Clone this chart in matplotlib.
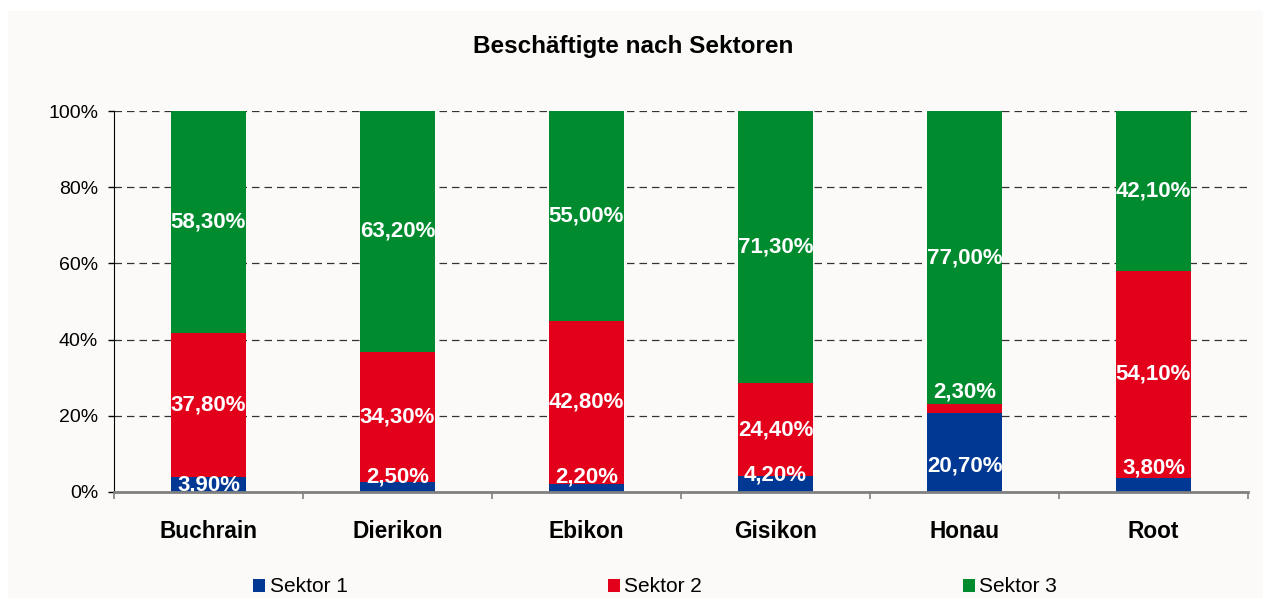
import numpy as np
import matplotlib.pyplot as plt
from matplotlib.patches import Rectangle

plt.rcParams['font.family'] = ['Liberation Sans', 'DejaVu Sans']

gemeinden = ['Buchrain', 'Dierikon', 'Ebikon', 'Gisikon', 'Honau', 'Root']
sektor1 = [3.9, 2.5, 2.2, 4.2, 20.7, 3.8]
sektor2 = [37.8, 34.3, 42.8, 24.4, 2.3, 54.1]
sektor3 = [58.3, 63.2, 55.0, 71.3, 77.0, 42.1]
serien = ['Sektor 1', 'Sektor 2', 'Sektor 3']
farben = ['#003893', '#E2001A', '#008C2E']

# label nudges in pixels (series index, bar index) -> dy
nudge = {(0, 1): 10, (0, 2): 11, (0, 3): 9, (0, 4): -13, (0, 5): 17, (1, 4): 17}

W, H = 1263, 598
fig = plt.figure(figsize=(W / 100, H / 100), dpi=100, facecolor='white')
fig.patches.append(Rectangle((8 / W, 0), 1, 1 - 11 / H, transform=fig.transFigure,
                             facecolor='#FBFAF8', edgecolor='none', zorder=-10))

ax = fig.add_axes([114 / W, 1 - 492 / H, 1134 / W, 381 / H])
ax.set_facecolor('none')

x = np.arange(len(gemeinden))
data = [sektor1, sektor2, sektor3]
bottom = np.zeros(len(gemeinden))
for si, (vals, col, name) in enumerate(zip(data, farben, serien)):
    vals = np.array(vals)
    ax.bar(x, vals, width=0.40, bottom=bottom, color=col, label=name, zorder=3)
    for bi in range(len(gemeinden)):
        yc = bottom[bi] + vals[bi] / 2
        dy = nudge.get((si, bi), 0)
        ax.annotate(f'{vals[bi]:.2f}%'.replace('.', ','), (x[bi], yc),
                    xytext=(0, dy * 0.72), textcoords='offset points',
                    ha='center', va='center', color='white', fontsize=16,
                    fontweight='bold', zorder=4, annotation_clip=False)
    bottom = bottom + vals

ax.set_xlim(-0.5, len(gemeinden) - 0.5)
ax.set_ylim(0, 100)
ax.set_yticks(np.arange(0, 101, 20))
ax.set_yticklabels([f'{v}%' for v in range(0, 101, 20)], fontsize=14)
ax.yaxis.grid(True, linestyle=(0, (6, 4)), color='#333333', linewidth=0.9, zorder=1)
ax.set_axisbelow(True)

ax.set_xticks(x)
ax.set_xticklabels(gemeinden, fontsize=16.3, fontweight='bold')
ax.tick_params(axis='x', length=0, pad=20)
ax.set_xticks(np.arange(-0.5, len(gemeinden), 1), minor=True)
ax.tick_params(axis='x', which='minor', length=5, color='#808080', width=1.2)
ax.tick_params(axis='y', length=4.5, width=1, pad=7)

for s in ['top', 'right']:
    ax.spines[s].set_visible(False)
ax.spines['bottom'].set_color('#808080')
ax.spines['bottom'].set_linewidth(2)
ax.spines['left'].set_color('black')
ax.spines['bottom'].set_zorder(5)

fig.text(633 / W, 1 - 46 / H, 'Beschäftigte nach Sektoren', ha='center', va='center',
         fontsize=17.5, fontweight='bold')

fig.legend(loc='center', bbox_to_anchor=(655 / W, 1 - 587 / H), ncol=3, frameon=False,
           fontsize=15, handlelength=0.6, handleheight=0.6, handletextpad=0.2,
           columnspacing=12.5)

fig.savefig('out.png', dpi=100, facecolor='white')
